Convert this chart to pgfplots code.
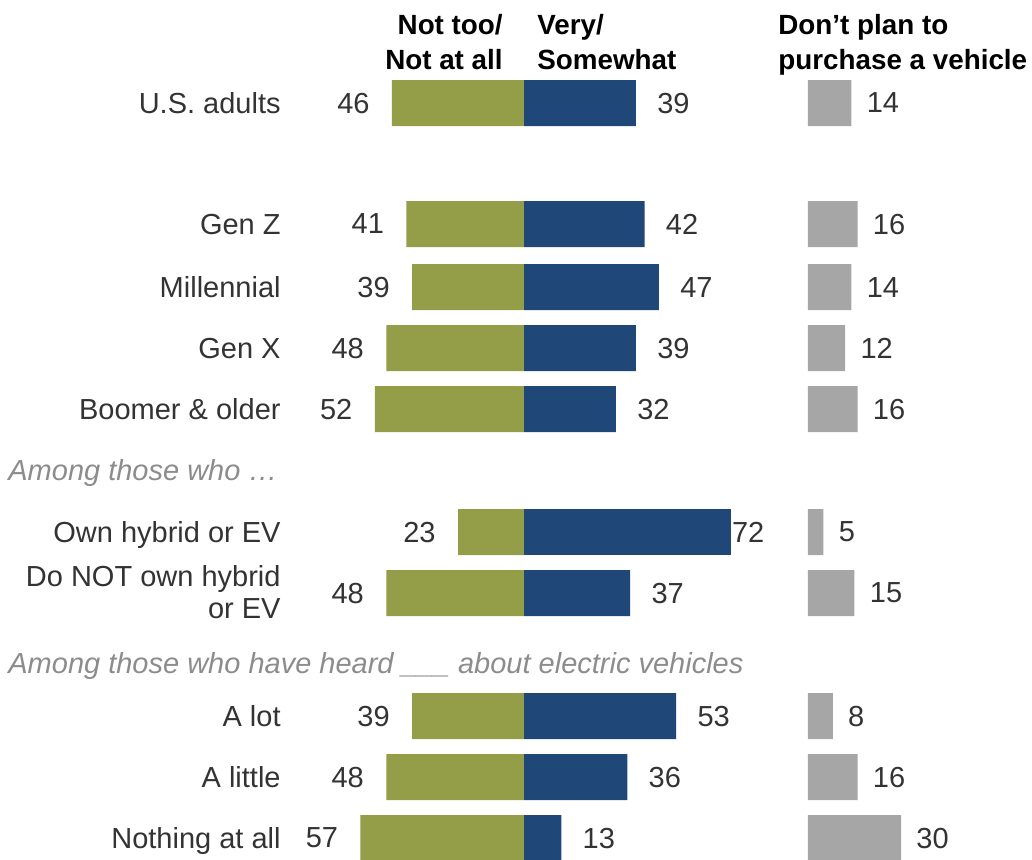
\documentclass[border=0pt]{standalone}
\usepackage{pgfplots}
\pgfplotsset{compat=1.18}
\usepackage{fontspec}
\setmainfont{Liberation Sans}
\definecolor{cgreen}{HTML}{949D48}
\definecolor{cblue}{HTML}{1F4778}
\definecolor{cgray}{HTML}{A6A6A6}
\definecolor{ctext}{HTML}{333333}
\definecolor{citalic}{HTML}{8C8C8C}
\begin{document}
\begin{tikzpicture}[font=\fontsize{14.5}{17}\selectfont]
\useasboundingbox (0,0) rectangle (516pt,-429.5pt);
\pgfplotsset{base/.style={width=516pt,height=429.5pt,scale only axis,hide axis,
  ymin=0,ymax=859,y dir=reverse,clip=false,anchor=north west,at={(0,0)},
  xbar,bar width=46,point meta=explicit,
  /pgf/number format/assume math mode=true,
  nodes near coords={\pgfmathprintnumber[assume math mode=true]{\pgfplotspointmeta}}}}
% main diverging axis
\begin{axis}[base,xmin=-182.58,xmax=177.0]
\addplot[fill=cgreen,draw=none,bar shift=0pt,
  every node near coord/.append style={anchor=east,inner sep=0pt,xshift=-11pt,text=ctext}]
  coordinates {(-46,103)[46] (-41,224)[41] (-39,287)[39] (-48,348)[48] (-52,409)[52]
               (-23,532)[23] (-48,593)[48] (-39,716)[39] (-48,777)[48] (-57,838)[57]};
\addplot[fill=cblue,draw=none,bar shift=0pt,
  every node near coord/.append style={anchor=west,inner sep=0pt,xshift=10.5pt,text=ctext}]
  coordinates {(39,103)[39] (42,224)[42] (47,287)[47] (39,348)[39] (32,409)[32]
               (37,593)[37] (53,716)[53] (36,777)[36] (13,838)[13]};
\addplot[fill=cblue,draw=none,bar shift=0pt,
  every node near coord/.append style={anchor=west,inner sep=0pt,xshift=0.5pt,text=ctext}]
  coordinates {(72,532)[72]};
% category labels
\begin{scope}[every node/.style={anchor=base east,text=ctext,inner sep=0pt}]
\node at (axis cs:-84.67,113.4) {U.S. adults};
\node at (axis cs:-84.67,234.4) {Gen Z};
\node at (axis cs:-84.67,297.4) {Millennial};
\node at (axis cs:-84.67,358.4) {Gen X};
\node at (axis cs:-84.67,419.4) {Boomer \& older};
\node at (axis cs:-84.67,542.4) {Own hybrid or EV};
\node at (axis cs:-84.67,586.4) {Do NOT own hybrid};
\node at (axis cs:-84.67,618.4) {or EV};
\node at (axis cs:-84.67,726.4) {A lot};
\node at (axis cs:-84.67,787.4) {A little};
\node at (axis cs:-84.67,848.4) {Nothing at all};
\end{scope}
% headers
\begin{scope}[every node/.style={text=black,inner sep=0pt,font=\fontsize{13.9}{17}\selectfont\bfseries}]
\node[anchor=base east] at (axis cs:-7.3,34) {Not too/};
\node[anchor=base east] at (axis cs:-7.3,69) {Not at all};
\node[anchor=base west] at (axis cs:4.5,34) {Very/};
\node[anchor=base west] at (axis cs:4.5,69) {Somewhat};
\node[anchor=base west] at (axis cs:88.5,34) {Don't plan to};
\node[anchor=base west] at (axis cs:88.5,69) {purchase a vehicle};
\end{scope}
% section notes
\begin{scope}[every node/.style={anchor=base west,text=citalic,inner sep=0pt,font=\fontsize{14.5}{17}\selectfont\itshape}]
\node at (axis cs:-179.8,480) {Among those who \ldots};
\node at (axis cs:-179.8,673) {Among those who have heard \_\_\_ about electric vehicles};
\end{scope}
\end{axis}
% gray axis
\begin{axis}[base,xmin=-260.6,xmax=72.26]
\addplot[fill=cgray,draw=none,bar shift=0pt,
  every node near coord/.append style={anchor=west,inner sep=0pt,xshift=7.5pt,text=ctext}]
  coordinates {(14,103)[14] (16,224)[16] (14,287)[14] (12,348)[12] (16,409)[16]
               (5,532)[5] (15,593)[15] (8,716)[8] (16,777)[16] (30,838)[30]};
\end{axis}
\end{tikzpicture}
\end{document}
